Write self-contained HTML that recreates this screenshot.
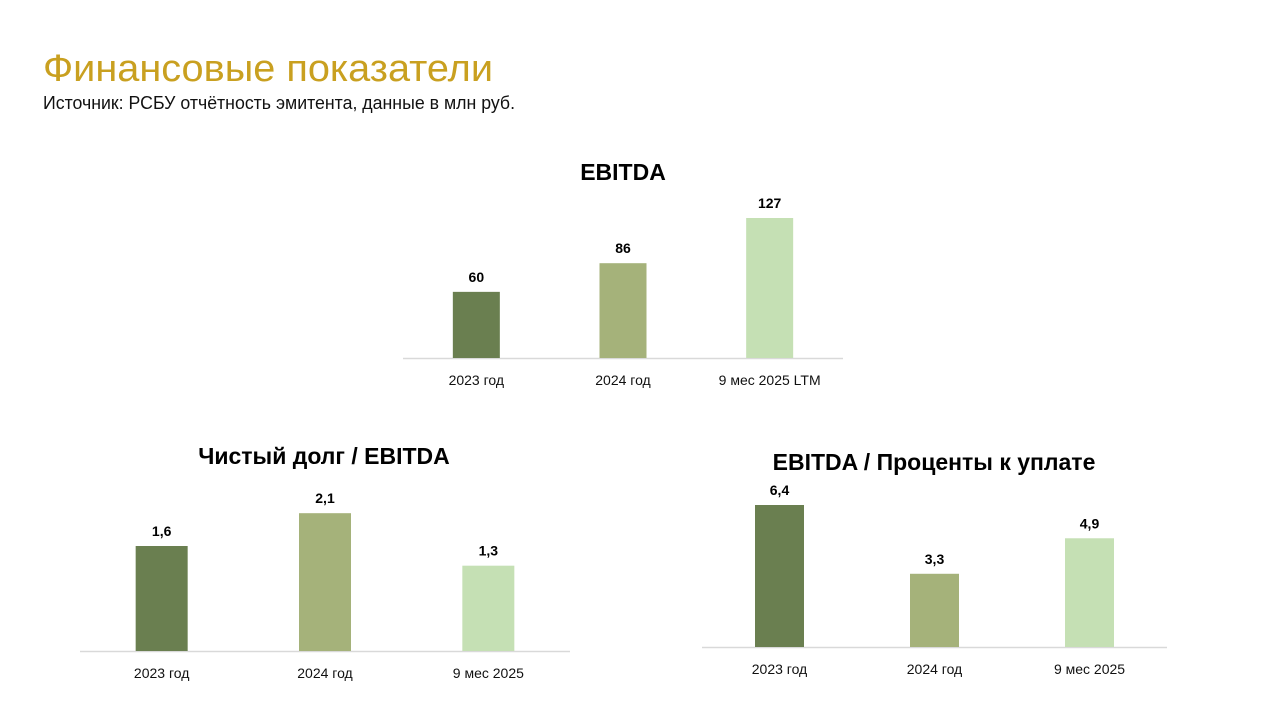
<!DOCTYPE html>
<html><head><meta charset="utf-8"><style>
html,body{margin:0;padding:0;background:#fff;}
svg{display:block;font-family:"Liberation Sans","DejaVu Sans",sans-serif;}
</style></head><body>
<svg id="s" width="1272" height="713" viewBox="0 0 1272 713">
<text x="43" y="81" font-size="38" fill="#c9a020" textLength="450" lengthAdjust="spacingAndGlyphs">Финансовые показатели</text>
<text x="43" y="109" font-size="18" fill="#111" textLength="472" lengthAdjust="spacingAndGlyphs">Источник: РСБУ отчётность эмитента, данные в млн руб.</text>
</svg>
<script>
const colors = ["#6a7f50","#a5b27a","#c5e0b4"];
const ebitdaCats = ["2023 год","2024 год","9 мес 2025 LTM"];
const ebitdaVals = [60,86,127];
const ebitdaLabels = ["60","86","127"];
const debtCats = ["2023 год","2024 год","9 мес 2025"];
const debtVals = [1.6,2.1,1.3];
const debtLabels = ["1,6","2,1","1,3"];
const icrCats = ["2023 год","2024 год","9 мес 2025"];
const icrVals = [6.4,3.3,4.9];
const icrLabels = ["6,4","3,3","4,9"];

const NS="http://www.w3.org/2000/svg";
const svg=document.getElementById('s');
function mk(tag,attrs,parent){const e=document.createElementNS(NS,tag);for(const k in attrs)e.setAttribute(k,attrs[k]);(parent||svg).appendChild(e);return e;}

function chart(cfg){
  const g=mk('g',{});
  
  
  const t=mk('text',{x:cfg.titleX,y:cfg.titleY,'font-size':23,'font-weight':'bold','text-anchor':'middle',fill:'#000'},g);
  t.textContent=cfg.title;
  
  
  const ax=mk('line',{x1:cfg.x0,x2:cfg.x1,y1:cfg.base+0.5,y2:cfg.base+0.5,stroke:'#d9d9d9','stroke-width':1.5},g);
  
  
  const n=cfg.cats.length, step=(cfg.x1-cfg.x0)/n;
  const y=v=>cfg.base-v*cfg.scale;
  cfg.cats.forEach((c,i)=>{
    const cx=cfg.x0+step*(i+0.5);
    const r=mk('rect',{x:cx-cfg.bw/2,y:y(cfg.vals[i]),width:cfg.bw,height:cfg.base-y(cfg.vals[i]),fill:colors[i]},g);
    
    
    const l=mk('text',{x:cx,y:y(cfg.vals[i])-10,'font-size':14,'font-weight':'bold','text-anchor':'middle',fill:'#000'},g);
    l.textContent=cfg.labels[i];
    
    
    const ct=mk('text',{x:cx,y:cfg.base+27,'font-size':14,'text-anchor':'middle',fill:'#111'},g);
    ct.textContent=c;
    
    
  });
}
chart({name:'ebitda-chart',title:'EBITDA',titleX:623,titleY:180,x0:403,x1:843,base:358,scale:140/127,bw:47,cats:ebitdaCats,vals:ebitdaVals,labels:ebitdaLabels});
chart({name:'net-debt-ebitda-chart',title:'Чистый долг / EBITDA',titleX:324,titleY:464,x0:80,x1:570,base:651,scale:105/1.6,bw:52,cats:debtCats,vals:debtVals,labels:debtLabels});
chart({name:'ebitda-interest-chart',title:'EBITDA / Проценты к уплате',titleX:934,titleY:470,x0:702,x1:1167,base:647,scale:142/6.4,bw:49,cats:icrCats,vals:icrVals,labels:icrLabels});
</script>
</body></html>
